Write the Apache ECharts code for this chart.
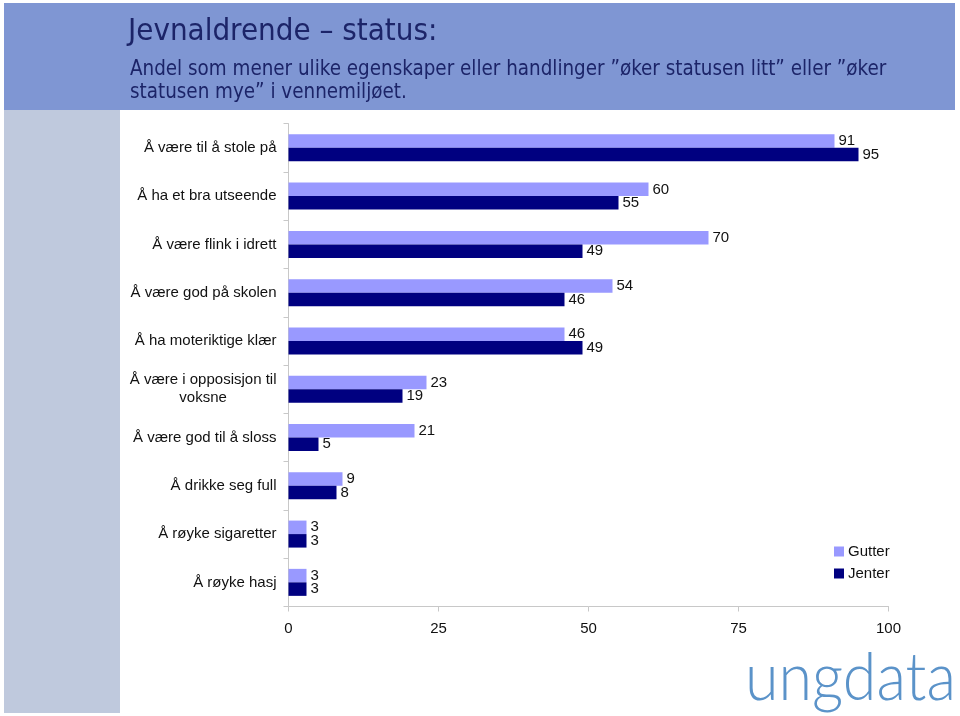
<!DOCTYPE html>
<html>
<head>
<meta charset="utf-8">
<script src="https://cdn.jsdelivr.net/npm/echarts@6/dist/echarts.min.js"></script>
<style>
html,body{margin:0;padding:0;background:#fff;}
#c{width:960px;height:716px;}
</style>
</head>
<body>
<div id="c"></div>
<script>
const categories = [
  'Å være til å stole på',
  'Å ha et bra utseende',
  'Å være flink i idrett',
  'Å være god på skolen',
  'Å ha moteriktige klær',
  'Å være i opposisjon til\nvoksne',
  'Å være god til å sloss',
  'Å drikke seg full',
  'Å røyke sigaretter',
  'Å røyke hasj'
];
const gutter = [91, 60, 70, 54, 46, 23, 21, 9, 3, 3];
const jenter = [95, 55, 49, 46, 49, 19, 5, 8, 3, 3];
const xTicks = [0, 25, 50, 75, 100];
const titleText = 'Jevnaldrende – status:';
const subLine1 = 'Andel som mener ulike egenskaper eller handlinger ”øker statusen litt” eller ”øker';
const subLine2 = 'statusen mye” i vennemiljøet.';
const logoText = 'ungdata';

const FONT = '"Liberation Sans", Arial, sans-serif';
const TFONT = 'Tahoma, "DejaVu Sans Condensed", "DejaVu Sans", sans-serif';

const chart = echarts.init(document.getElementById('c'), null, {renderer: 'canvas'});
chart.setOption({
  animation: false,
  backgroundColor: '#ffffff',
  graphic: [
    {type: 'rect', z: -10, shape: {x: 4, y: 3, width: 951, height: 107}, style: {fill: '#7f96d3'}},
    {type: 'rect', z: -10, shape: {x: 4, y: 110, width: 116, height: 603}, style: {fill: '#bfc9dd'}},
    {type: 'text', x: 128, y: 32, style: {text: titleText, font: '31px ' + TFONT, fill: '#1c2468', textVerticalAlign: 'middle'}},
    {type: 'text', x: 130, y: 69.5, style: {text: subLine1, font: '20.4px ' + TFONT, fill: '#1c2468', textVerticalAlign: 'middle'}},
    {type: 'text', x: 130, y: 92.5, style: {text: subLine2, font: '20.4px ' + TFONT, fill: '#1c2468', textVerticalAlign: 'middle'}},
    {type: 'text', x: 745, y: 678, scaleX: 0.91, style: {text: logoText, font: '300 67px Lato, "Open Sans", sans-serif', fill: '#5b93c9', textVerticalAlign: 'middle'}}
  ],
  legend: {
    orient: 'vertical',
    left: 829,
    top: 539,
    itemWidth: 10,
    itemHeight: 10,
    itemGap: 7,
    icon: 'rect',
    textStyle: {fontFamily: FONT, fontSize: 15, color: '#111', padding: [0, 0, 0, -1]},
    data: ['Gutter', 'Jenter']
  },
  grid: {left: 288.5, right: 71.5, top: 123.7, bottom: 109.5, containLabel: false},
  xAxis: {
    type: 'value',
    min: 0, max: 100, interval: 25,
    axisLine: {show: true, lineStyle: {color: '#c8c8c8', width: 1}},
    axisTick: {show: true, length: 5, lineStyle: {color: '#c8c8c8'}},
    splitLine: {show: false},
    axisLabel: {fontFamily: FONT, fontSize: 15, color: '#111', margin: 15,
      formatter: v => xTicks.includes(v) ? String(v) : ''}
  },
  yAxis: {
    type: 'category',
    inverse: true,
    data: categories,
    axisLine: {show: true, lineStyle: {color: '#c8c8c8', width: 1}},
    axisTick: {show: true, length: 5, lineStyle: {color: '#c8c8c8'}},
    axisLabel: {
      margin: 12,
      formatter: v => v.split('\n').map(s => '{c|' + s + '}').join('\n'),
      rich: {c: {fontFamily: FONT, fontSize: 15, color: '#111', align: 'center', lineHeight: 18}}
    }
  },
  series: [
    {
      name: 'Gutter', type: 'bar', data: gutter,
      barWidth: 13.5, barGap: '0%',
      itemStyle: {color: '#9999ff'},
      label: {show: true, position: 'right', distance: 4, fontFamily: FONT, fontSize: 15, color: '#111'}
    },
    {
      name: 'Jenter', type: 'bar', data: jenter,
      barWidth: 13.5, barGap: '0%',
      itemStyle: {color: '#000080'},
      label: {show: true, position: 'right', distance: 4, fontFamily: FONT, fontSize: 15, color: '#111'}
    }
  ]
});
</script>
</body>
</html>
